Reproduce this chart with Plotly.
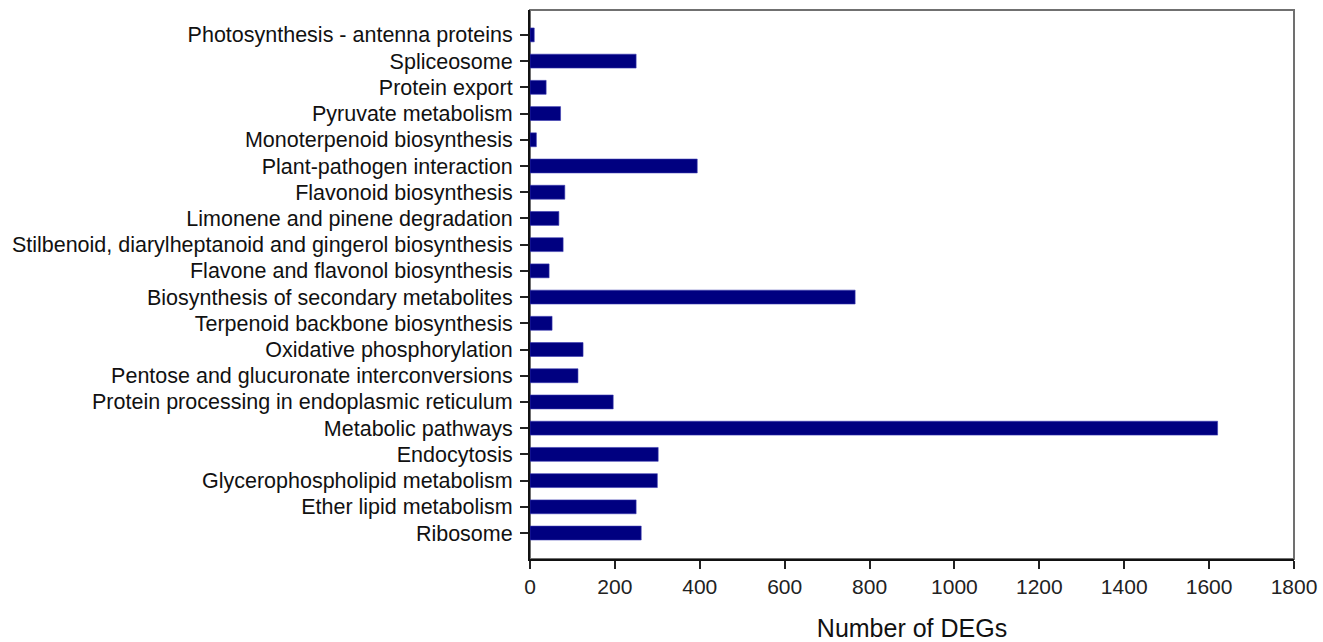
import plotly.graph_objects as go

categories = [
    "Photosynthesis - antenna proteins",
    "Spliceosome",
    "Protein export",
    "Pyruvate metabolism",
    "Monoterpenoid biosynthesis",
    "Plant-pathogen interaction",
    "Flavonoid biosynthesis",
    "Limonene and pinene degradation",
    "Stilbenoid, diarylheptanoid and gingerol biosynthesis",
    "Flavone and flavonol biosynthesis",
    "Biosynthesis of secondary metabolites",
    "Terpenoid backbone biosynthesis",
    "Oxidative phosphorylation",
    "Pentose and glucuronate interconversions",
    "Protein processing in endoplasmic reticulum",
    "Metabolic pathways",
    "Endocytosis",
    "Glycerophospholipid metabolism",
    "Ether lipid metabolism",
    "Ribosome",
]
values = [10, 250, 38, 72, 15, 394, 82, 68, 78, 45, 766, 52, 125, 113, 196, 1620, 302, 300, 250, 262]
x_ticks = [0, 200, 400, 600, 800, 1000, 1200, 1400, 1600, 1800]

cats = categories[::-1]
vals = values[::-1]

fig = go.Figure(go.Bar(
    x=vals, y=cats, orientation="h",
    marker=dict(color="#000080", line=dict(color="#3a3ab0", width=0.6)),
    width=0.53,
))

fig.add_shape(type="rect", xref="paper", yref="paper", x0=0, y0=0, x1=1, y1=1,
              line=dict(color="#707070", width=2), layer="below")

fig.update_layout(
    width=1323, height=642,
    margin=dict(l=530, r=29, t=10, b=83, autoexpand=False),
    plot_bgcolor="white", paper_bgcolor="white",
    font=dict(family="Liberation Sans, Arial, sans-serif", size=21, color="#111"),
    showlegend=False,
    xaxis=dict(
        range=[0, 1800], tickvals=x_ticks, ticks="outside", ticklen=8, tickwidth=1.5,
        tickcolor="#222", showline=True, linecolor="#111", linewidth=2,
        showgrid=False, zeroline=False, automargin=False,
        title=dict(text="Number of DEGs", font=dict(size=25), standoff=22),
        tickfont=dict(size=21, color="#222"),
    ),
    yaxis=dict(
        categoryorder="array", categoryarray=cats,
        range=[-0.99, 19.95], ticks="outside", ticklen=8, tickwidth=1.5,
        tickcolor="#222", showline=True, linecolor="#111", linewidth=2,
        showgrid=False, zeroline=False, ticklabelstandoff=3, automargin=False,
        tickfont=dict(size=21.5, color="#111"),
    ),
)

fig.write_html("out.html", config={"displayModeBar": False},
               post_script="document.body.style.margin='0';document.body.style.overflow='hidden';")
